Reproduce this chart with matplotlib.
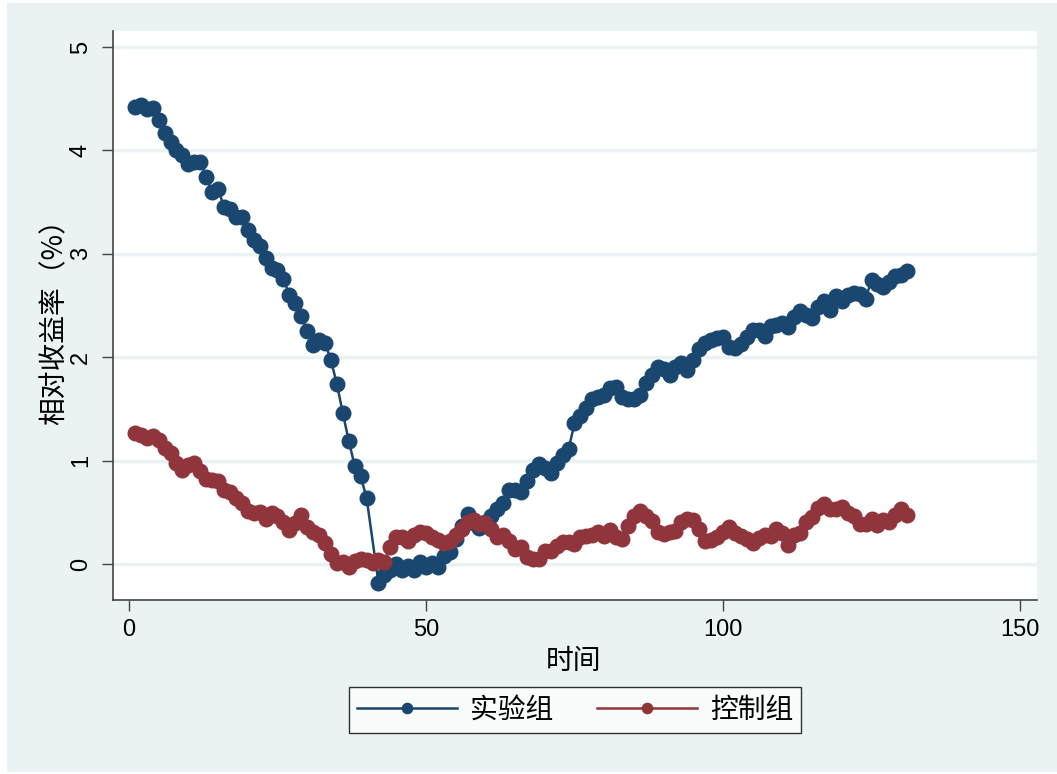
import matplotlib
matplotlib.use("Agg")
import matplotlib.pyplot as plt
import numpy as np
from matplotlib.patches import Rectangle

plt.rcParams['font.family'] = ['Liberation Sans', 'Noto Sans CJK SC', 'DejaVu Sans']
cjk = ['Noto Sans CJK SC', 'DejaVu Sans']

# trading days and relative returns (%) for the two groups
days = np.arange(1, 132)
treat = np.array([
    4.42, 4.44, 4.40, 4.41, 4.29, 4.17, 4.08, 4.00, 3.96, 3.87,
    3.89, 3.89, 3.74, 3.60, 3.63, 3.45, 3.43, 3.36, 3.36, 3.23,
    3.13, 3.08, 2.96, 2.86, 2.84, 2.76, 2.60, 2.52, 2.40, 2.25,
    2.12, 2.17, 2.14, 1.97, 1.74, 1.46, 1.19, 0.95, 0.85, 0.64,
    np.nan, -0.18, -0.11, -0.06, 0.00, -0.06, -0.02, -0.06, 0.02, -0.03,
    0.01, -0.03, 0.08, 0.12, 0.24, 0.37, 0.48, 0.40, 0.35, 0.41,
    0.46, 0.53, 0.59, 0.72, 0.72, 0.70, 0.80, 0.91, 0.97, 0.93,
    0.88, 0.98, 1.05, 1.11, 1.36, 1.43, 1.51, 1.60, 1.62, 1.63,
    1.70, 1.71, 1.62, 1.60, 1.60, 1.63, 1.75, 1.83, 1.91, 1.89,
    1.83, 1.91, 1.94, 1.88, 1.97, 2.08, 2.14, 2.17, 2.19, 2.20,
    2.10, 2.09, 2.13, 2.20, 2.26, 2.26, 2.21, 2.30, 2.31, 2.33,
    2.29, 2.39, 2.45, 2.41, 2.38, 2.49, 2.54, 2.46, 2.59, 2.54,
    2.60, 2.62, 2.61, 2.56, 2.75, 2.71, 2.68, 2.73, 2.79, 2.80,
    2.83])
control = np.array([
    1.27, 1.25, 1.22, 1.24, 1.20, 1.12, 1.07, 0.98, 0.91, 0.96,
    0.98, 0.90, 0.82, 0.81, 0.80, 0.72, 0.70, 0.64, 0.59, 0.51,
    0.49, 0.50, 0.44, 0.49, 0.46, 0.41, 0.33, 0.40, 0.47, 0.36,
    0.31, 0.28, 0.20, 0.10, 0.01, 0.02, -0.03, 0.03, 0.05, 0.04,
    0.01, 0.04, 0.02, 0.16, 0.26, 0.26, 0.22, 0.28, 0.31, 0.30,
    0.26, 0.23, 0.20, 0.22, 0.28, 0.34, 0.41, 0.43, 0.39, 0.40,
    0.34, 0.26, 0.28, 0.22, 0.15, 0.16, 0.07, 0.05, 0.05, 0.13,
    0.13, 0.17, 0.21, 0.21, 0.19, 0.26, 0.27, 0.28, 0.31, 0.27,
    0.33, 0.26, 0.24, 0.37, 0.46, 0.51, 0.46, 0.42, 0.31, 0.29,
    0.31, 0.32, 0.41, 0.44, 0.43, 0.34, 0.22, 0.23, 0.26, 0.31,
    0.36, 0.30, 0.27, 0.24, 0.20, 0.25, 0.28, 0.27, 0.34, 0.30,
    0.18, 0.28, 0.30, 0.41, 0.45, 0.54, 0.58, 0.53, 0.53, 0.55,
    0.49, 0.46, 0.39, 0.39, 0.44, 0.38, 0.43, 0.41, 0.47, 0.53,
    0.47])
labels = ['实验组', '控制组']
xticks = [0, 50, 100, 150]
yticks = [0, 1, 2, 3, 4, 5]

navy = '#1A476F'
maroon = '#90353B'
bg = '#EAF2F3'

fig = plt.figure(figsize=(10.57, 7.74), dpi=100, facecolor='white')
fig.patches.append(Rectangle((7 / 1057, 2 / 774), 1, 769 / 774,
                             transform=fig.transFigure, facecolor=bg,
                             edgecolor='none', zorder=-10))
ax = fig.add_axes([112.7 / 1057, 174 / 774, 924.3 / 1057, 569 / 774])
ax.set_facecolor('white')

ok = ~np.isnan(treat)
ax.plot(days[ok], treat[ok], '-o', color=navy, lw=1.8, ms=10.5, label=labels[0], zorder=3)
ax.plot(days, control, '-o', color=maroon, lw=1.8, ms=10.5, label=labels[1], zorder=4)

ax.set_xlim(-2.74, 152.86)
ax.set_ylim(-0.348, 5.155)
ax.set_xticks(xticks)
ax.set_yticks(yticks)
for y in yticks:
    ax.axhline(y, color=bg, lw=2.5, zorder=1)

for s in ['top', 'right']:
    ax.spines[s].set_visible(False)
for s in ['left', 'bottom']:
    ax.spines[s].set_color('#444444')
    ax.spines[s].set_linewidth(1.2)
ax.tick_params(axis='both', length=8, width=1.0, color='#444444', labelsize=17)
ax.tick_params(axis='x', pad=6)
ax.tick_params(axis='y', pad=7)
for t in ax.get_yticklabels():
    t.set_rotation(90)
    t.set_va('center')

ax.set_xlabel('时间', fontsize=20, family=cjk)
ax.set_ylabel('相对收益率（%）', fontsize=20, family=cjk)
ax.xaxis.set_label_coords(0.498, -0.080)
ax.yaxis.set_label_coords(-0.047, 0.5)

leg = fig.legend(loc='center', bbox_to_anchor=(575 / 1057, 1 - 710 / 774), ncol=2,
                 prop={'family': cjk, 'size': 20}, handlelength=3.6,
                 handletextpad=0.45, columnspacing=1.6, markerscale=0.7,
                 frameon=True, fancybox=False, borderpad=0.3)
leg.get_frame().set_edgecolor('black')
leg.get_frame().set_linewidth(1.0)

fig.savefig('out.png', dpi=100, facecolor=fig.get_facecolor())
